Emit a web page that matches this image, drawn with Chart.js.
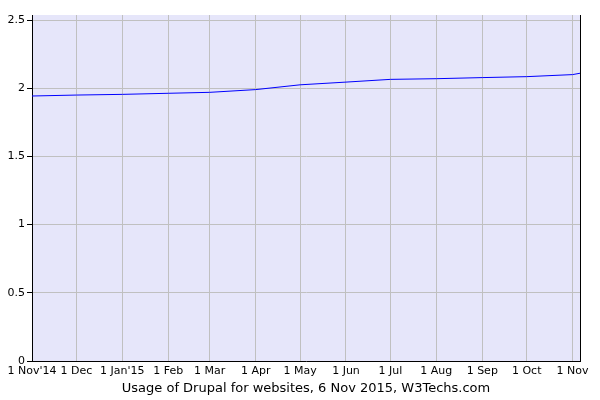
<!DOCTYPE html>
<html>
<head>
<meta charset="utf-8">
<script src="https://cdn.jsdelivr.net/npm/chart.js@4/dist/chart.umd.min.js"></script>
<style>
    html, body { margin: 0; padding: 0; background: #fff; }
    #wrap { width: 600px; height: 400px; }
</style>
</head>
<body>
<div id="wrap"><canvas id="chart"></canvas></div>
<script>
    // days since 1 Nov 2014, month starts
    const monthDays = [0, 30, 61, 92, 120, 151, 181, 212, 242, 273, 304, 334, 365];
    const monthLabels = ["1 Nov'14", "1 Dec", "1 Jan'15", "1 Feb", "1 Mar", "1 Apr", "1 May",
        "1 Jun", "1 Jul", "1 Aug", "1 Sep", "1 Oct", "1 Nov"];
    // usage readings (%) at those days, plus 6 Nov 2015
    const pointDays = [0, 30, 61, 92, 120, 151, 181, 212, 242, 273, 304, 334, 365, 370];
    const usage = [1.943, 1.95, 1.955, 1.963, 1.97, 1.99, 2.025, 2.045, 2.065, 2.07, 2.078, 2.085, 2.10, 2.11];
    const yTicks = [0, 0.5, 1, 1.5, 2, 2.5];
    const chartTitle = "Usage of Drupal for websites, 6 Nov 2015, W3Techs.com";

    const plotFrame = {
        id: "plotFrame",
        beforeDraw(chart) {
            let { ctx, chartArea: a } = chart;
            ctx.save();
            ctx.fillStyle = "#e6e6fa";
            ctx.fillRect(a.left, a.top, a.right - a.left, a.bottom - a.top);
            ctx.restore();
        },
        afterDraw(chart) {
            let { ctx, chartArea: a } = chart;
            ctx.save();
            ctx.strokeStyle = "#000";
            ctx.lineWidth = 1;
            ctx.beginPath();
            ctx.moveTo(Math.round(a.right) + 0.5, a.top);
            ctx.lineTo(Math.round(a.right) + 0.5, a.bottom);
            ctx.stroke();
            ctx.restore();
        },
    };

    Chart.defaults.font.family = "'DejaVu Sans', Verdana, sans-serif";
    Chart.defaults.color = "#000";

    new Chart(document.getElementById("chart"), {
        type: "line",
        data: {
            datasets: [{
                data: pointDays.map((d, i) => ({ x: d, y: usage[i] })),
                borderColor: "#0000ff",
                borderWidth: 1,
                pointRadius: 0,
                tension: 0,
                fill: false,
            }],
        },
        options: {
            responsive: true,
            maintainAspectRatio: false,
            animation: false,
            layout: { padding: { top: 15, right: 20, left: 0, bottom: 0 } },
            plugins: { legend: { display: false }, tooltip: { enabled: false } },
            scales: {
                x: {
                    type: "linear",
                    min: 0,
                    max: 370,
                    afterBuildTicks: (s) => { s.ticks = monthDays.map((v) => ({ value: v })); },
                    afterFit: (s) => { s.height = 39; },
                    ticks: {
                        autoSkip: false,
                        maxRotation: 0,
                        padding: 4,
                        font: { size: 11 },
                        callback: (v) => monthLabels[monthDays.indexOf(v)],
                    },
                    grid: { color: "#c0c0c0", drawTicks: false },
                    border: { color: "#000" },
                    title: { display: true, text: chartTitle, font: { size: 13 }, padding: { top: 4, bottom: 4 } },
                },
                y: {
                    min: 0,
                    max: 2.537,
                    afterBuildTicks: (s) => { s.ticks = yTicks.map((v) => ({ value: v })); },
                    afterFit: (s) => { s.width = 32; },
                    ticks: { padding: 2, font: { size: 11 }, callback: (v) => String(v) },
                    grid: { color: "#c0c0c0", tickColor: "#000", tickLength: 5 },
                    border: { color: "#000" },
                },
            },
        },
        plugins: [plotFrame],
    });
</script>
</body>
</html>
